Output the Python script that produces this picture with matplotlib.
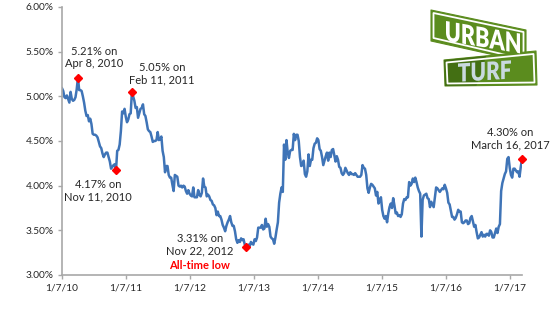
import matplotlib

matplotlib.use("Agg")
import matplotlib.pyplot as plt
import matplotlib.transforms as mtransforms
import numpy as np
import pandas as pd
from matplotlib.font_manager import FontProperties
from matplotlib.patches import PathPatch, Polygon
from matplotlib.textpath import TextPath
from matplotlib.ticker import FuncFormatter

plt.rcParams["font.family"] = ["Lato", "DejaVu Sans"]

# Weekly average 30-year fixed mortgage rate (%), one value per Thursday
FIRST_WEEK = "2010-01-07"
RATES_2010 = [5.09, 5.06, 4.99, 4.98, 5.01, 4.97, 4.93, 5.05, 4.97, 4.95, 4.96, 4.99,
              5.08, 5.21, 5.07, 5.07, 5.06, 5.00, 4.93, 4.84, 4.78, 4.79, 4.72, 4.75,
              4.69, 4.58, 4.57, 4.57, 4.56, 4.54, 4.49, 4.44, 4.42, 4.36, 4.32, 4.35,
              4.37, 4.37, 4.32, 4.27, 4.19, 4.21, 4.23, 4.24, 4.17, 4.39, 4.40, 4.46,
              4.61, 4.83, 4.81, 4.86]
RATES_2011 = [4.77, 4.71, 4.74, 4.80, 4.81, 5.05, 5.00, 4.95, 4.87, 4.88, 4.76, 4.81,
              4.86, 4.87, 4.91, 4.80, 4.78, 4.71, 4.63, 4.61, 4.60, 4.55, 4.49, 4.50,
              4.50, 4.51, 4.60, 4.51, 4.52, 4.55, 4.39, 4.32, 4.15, 4.22, 4.22, 4.12,
              4.09, 4.09, 4.01, 3.94, 4.12, 4.11, 4.10, 4.00, 3.99, 4.00, 3.98, 4.00,
              3.99, 3.94, 3.91, 3.95]
RATES_2012 = [3.91, 3.89, 3.88, 3.98, 3.87, 3.87, 3.87, 3.95, 3.90, 3.88, 3.92, 4.08,
              3.99, 3.98, 3.88, 3.90, 3.88, 3.84, 3.83, 3.79, 3.78, 3.75, 3.67, 3.71,
              3.66, 3.66, 3.62, 3.56, 3.53, 3.49, 3.55, 3.59, 3.62, 3.66, 3.59, 3.55,
              3.55, 3.49, 3.40, 3.36, 3.39, 3.37, 3.41, 3.39, 3.40, 3.34, 3.31, 3.32,
              3.34, 3.32, 3.37, 3.35]
RATES_2013 = [3.34, 3.40, 3.38, 3.42, 3.53, 3.53, 3.53, 3.56, 3.51, 3.52, 3.63, 3.54,
              3.57, 3.54, 3.43, 3.41, 3.40, 3.35, 3.42, 3.51, 3.59, 3.81, 3.91, 3.98,
              3.93, 4.46, 4.29, 4.51, 4.37, 4.31, 4.39, 4.40, 4.40, 4.58, 4.51, 4.57,
              4.57, 4.50, 4.32, 4.22, 4.23, 4.28, 4.13, 4.10, 4.16, 4.35, 4.22, 4.29,
              4.29, 4.42, 4.47, 4.48]
RATES_2014 = [4.53, 4.51, 4.41, 4.39, 4.32, 4.23, 4.28, 4.33, 4.37, 4.28, 4.37, 4.32,
              4.40, 4.41, 4.34, 4.27, 4.33, 4.29, 4.21, 4.20, 4.14, 4.12, 4.14, 4.20,
              4.17, 4.14, 4.12, 4.15, 4.13, 4.13, 4.12, 4.14, 4.12, 4.10, 4.10, 4.10,
              4.12, 4.23, 4.20, 4.19, 4.12, 3.97, 3.92, 3.98, 4.02, 4.01, 3.99, 3.97,
              3.89, 3.93, 3.80, 3.83, 3.87]
RATES_2015 = [3.73, 3.66, 3.63, 3.66, 3.59, 3.69, 3.76, 3.80, 3.75, 3.86, 3.78, 3.69,
              3.70, 3.66, 3.67, 3.65, 3.68, 3.80, 3.85, 3.84, 3.87, 3.87, 4.04, 4.00,
              4.02, 4.08, 4.04, 4.09, 4.04, 3.98, 3.94, 3.91, 3.43, 3.84, 3.89, 3.90,
              3.91, 3.86, 3.85, 3.76, 3.82, 3.79, 3.76, 3.87, 3.98, 3.97, 3.95, 3.93,
              3.95, 3.97, 3.96, 4.01]
RATES_2016 = [3.97, 3.92, 3.81, 3.79, 3.72, 3.65, 3.65, 3.62, 3.64, 3.68, 3.73, 3.71,
              3.71, 3.59, 3.58, 3.59, 3.61, 3.61, 3.57, 3.58, 3.64, 3.66, 3.60, 3.54,
              3.56, 3.48, 3.41, 3.42, 3.45, 3.48, 3.43, 3.45, 3.43, 3.46, 3.46, 3.44,
              3.50, 3.48, 3.42, 3.42, 3.47, 3.52, 3.47, 3.54, 3.57, 3.94, 4.03, 4.08,
              4.13, 4.16, 4.30, 4.32]
RATES_2017 = [4.20, 4.12, 4.09, 4.19, 4.19, 4.17, 4.15, 4.16, 4.10, 4.21, 4.30]

# Called-out points
HIGHLIGHT_DATES = ["2010-04-08", "2011-02-10", "2010-11-11", "2012-11-22", "2017-03-16"]
HIGHLIGHT_RATES = [5.21, 5.05, 4.17, 3.31, 4.30]
HIGHLIGHT_LABELS = ["5.21% on\nApr 8, 2010", "5.05% on\nFeb 11, 2011",
                    "4.17% on\nNov 11, 2010", "3.31% on\nNov 22, 2012",
                    "4.30% on\nMarch 16, 2017"]

Y_TICKS = [3.0, 3.5, 4.0, 4.5, 5.0, 5.5, 6.0]
X_TICK_DATES = ["2010-01-07", "2011-01-07", "2012-01-07", "2013-01-07",
                "2014-01-07", "2015-01-07", "2016-01-07", "2017-01-07"]

LINE_BLUE = "#3f74b7"
AXIS_GREY = "#a8a8a8"
TEXT = "#262626"

rates = np.concatenate([RATES_2010, RATES_2011, RATES_2012, RATES_2013,
                        RATES_2014, RATES_2015, RATES_2016, RATES_2017])
weeks = pd.date_range(FIRST_WEEK, periods=len(rates), freq="7D").to_pydatetime()

W, H = 550, 333
fig = plt.figure(figsize=(W / 100, H / 100), dpi=100)
ax = fig.add_axes([62 / W, 1 - 275 / H, 460 / W, 268 / H])

ax.plot(weeks, rates, color=LINE_BLUE, lw=1.8, solid_joinstyle="round", zorder=2)

ax.set_xlim(weeks[0], weeks[-1])
ax.set_ylim(Y_TICKS[0], Y_TICKS[-1])
ax.set_yticks(Y_TICKS)
ax.yaxis.set_major_formatter(FuncFormatter(lambda v, _: f"{v:.2f}%"))

tick_dates = pd.to_datetime(X_TICK_DATES)
ax.set_xticks(tick_dates.to_pydatetime())
ax.set_xticklabels([f"{t.month}/{t.day}/{t.year % 100:02d}" for t in tick_dates])

for side in ("top", "right"):
    ax.spines[side].set_visible(False)
for side in ("left", "bottom"):
    ax.spines[side].set_color(AXIS_GREY)
    ax.spines[side].set_linewidth(1.2)
ax.tick_params(direction="out", length=3, width=1, color=AXIS_GREY,
               labelsize=7.3, labelcolor=TEXT, pad=3)

# red diamonds + labels for the highs and lows
offsets = [(16, 20), (30, 18), (-18, -20), (-46, 3), (-12, 20)]
for d, r, label, (dx, dy) in zip(HIGHLIGHT_DATES, HIGHLIGHT_RATES,
                                 HIGHLIGHT_LABELS, offsets):
    when = pd.Timestamp(d).to_pydatetime()
    ax.plot(when, r, marker="D", ms=4.5, color="#ff0000", mec="#ff0000",
            clip_on=False, zorder=3)
    ax.annotate(label, xy=(when, r), xytext=(dx, dy), textcoords="offset pixels",
                ha="center", va="center", fontsize=8, color=TEXT,
                linespacing=1.15, annotation_clip=False)

low_when = pd.Timestamp(HIGHLIGHT_DATES[3]).to_pydatetime()
ax.annotate("All-time low", xy=(low_when, HIGHLIGHT_RATES[3]), xytext=(-46, -18),
            textcoords="offset pixels", ha="center", va="center", fontsize=8,
            color="#ff0000", fontweight="bold")

# UrbanTurf street-sign logo, drawn in pixel units (y grows downward)
logo = fig.add_axes([425 / W, 1 - 95 / H, 120 / W, 90 / H])
logo.set_xlim(425, 545)
logo.set_ylim(95, 5)
logo.axis("off")

SIGN_GREEN = "#5b8c1e"
SIGN_DARK = "#3b6610"


def sign(corners, inner, z):
    body = Polygon(corners, closed=True, fc=SIGN_GREEN, ec=SIGN_GREEN, lw=0.8,
                   joinstyle="round", zorder=z)
    logo.add_patch(body)
    logo.add_patch(Polygon(inner, closed=True, fc="none", ec="white", lw=1.3,
                           joinstyle="round", zorder=z + 0.3))
    return body


def sign_text(s, x0, x1, top, height, slope, color, z):
    glyphs = TextPath((0, 0), s, size=10,
                      prop=FontProperties(family="Lato", weight="heavy"))
    ext = glyphs.get_extents()
    t = (mtransforms.Affine2D()
         .translate(-ext.x0, -ext.y1)
         .scale((x1 - x0) / ext.width, -height / ext.height)
         .skew(0, np.arctan(slope))
         .translate(x0, top))
    logo.add_patch(PathPatch(t.transform_path(glyphs), fc=color, ec="none",
                             zorder=z))


sign([(431, 10), (526, 30), (526, 62), (431, 41)],
     [(433.5, 13), (523.5, 32), (523.5, 59), (433.5, 38)], 1)
lower = sign([(444, 60), (536, 51), (537, 85), (445, 86)],
             [(446.5, 62.5), (533.5, 54), (534.5, 82.5), (447.5, 83.5)], 2)
shade = Polygon([(440, 48), (489, 48), (475, 90), (440, 90)], closed=True,
                fc=SIGN_DARK, ec="none", alpha=0.75, zorder=2.1)
logo.add_patch(shade)
shade.set_clip_path(lower)

sign_text("URBAN", 446, 520, 21, 20, 0.17, "white", 5)
sign_text("TURF", 458, 511, 63.5, 18.5, -0.06, "#c9d9df", 5)

fig.savefig("out.png", dpi=100)
